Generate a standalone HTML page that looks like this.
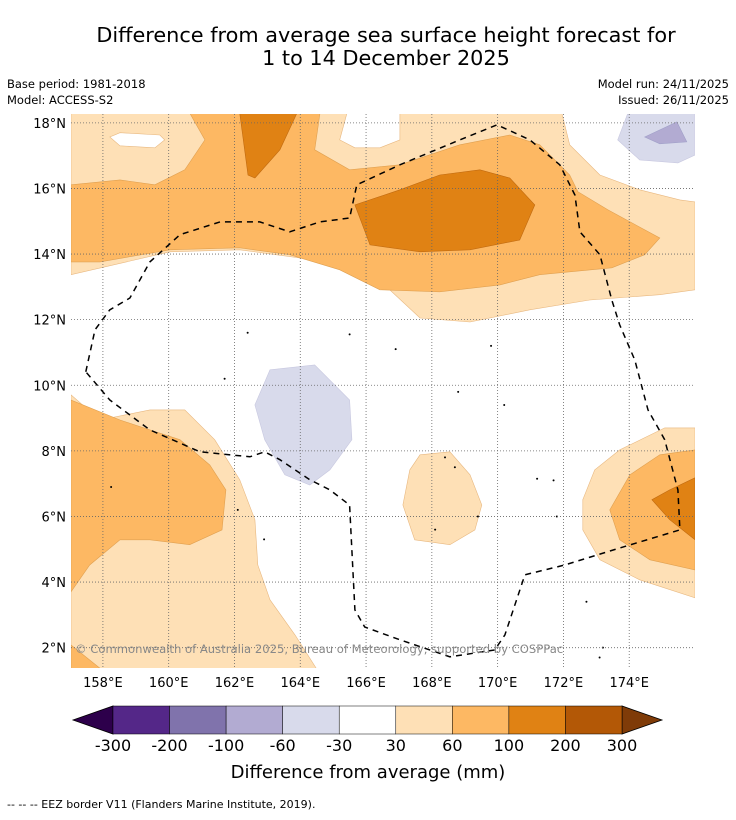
<!DOCTYPE html>
<html><head><meta charset="utf-8"><style>
body{margin:0;background:#fff;font-family:"DejaVu Sans",sans-serif;}
svg text{font-family:"DejaVu Sans",sans-serif;}
</style></head><body>
<svg id="chart" width="736" height="816" viewBox="0 0 736 816" xmlns="http://www.w3.org/2000/svg">
<text x="386" y="42" font-size="20.8" text-anchor="middle">Difference from average sea surface height forecast for</text>
<text x="386" y="65" font-size="20.8" text-anchor="middle">1 to 14 December 2025</text>
<text x="7" y="88" font-size="11.5">Base period: 1981-2018</text>
<text x="7" y="104" font-size="11.5">Model: ACCESS-S2</text>
<text x="729" y="88" font-size="11.5" text-anchor="end">Model run: 24/11/2025</text>
<text x="729" y="104" font-size="11.5" text-anchor="end">Issued: 26/11/2025</text>
<defs><clipPath id="mapclip"><rect x="71" y="114" width="624" height="554"/></clipPath></defs>
<g id="map" clip-path="url(#mapclip)"></g>
<g id="axes"></g>
<text x="75" y="653" font-size="11.6" fill="#888">© Commonwealth of Australia 2025, Bureau of Meteorology, supported by COSPPac</text>
<g id="cbar"></g>
<text x="368" y="778" font-size="18" text-anchor="middle">Difference from average (mm)</text>
<text x="7" y="808" font-size="11">--  --  -- EEZ border V11 (Flanders Marine Institute, 2019).</text>
</svg>
<script>
const lonTicks=[158,160,162,164,166,168,170,172,174];
const latTicks=[18,16,14,12,10,8,6,4,2];
const cbarLevels=[-300,-200,-100,-60,-30,30,60,100,200,300];
const cbarColors=['#542788','#8073ac','#b2abd2','#d8daeb','#ffffff','#fee0b6','#fdb863','#e08214','#b35806'];
const LIGHT='#fee0b6',MED='#fdb863',DARK='#e08214',LAV='#d8daeb',PUR='#b2abd2';
const lightTop=[[157.03,18.3],[165.42,18.3],[165.2,17.48],[165.66,17.24],[166.42,17.24],[167.03,17.48],[167.03,18.3],[171.95,18.3],[172.19,17.33],[173.11,16.41],[174.32,15.96],[175.54,15.65],[176,15.59],[176,12.91],[174.93,12.76],[172.8,12.6],[170.98,12.3],[169.16,11.93],[167.64,12.05],[166.72,12.91],[165.5,13.67],[163.99,13.88],[162.16,14.13],[160.04,14.07],[157.03,13.37]];
const holeTopLeft=[[158.21,17.57],[158.52,17.7],[159.73,17.63],[159.88,17.48],[159.58,17.24],[158.52,17.3]];
const medTop=[[157.03,16.11],[158.52,16.26],[159.58,16.11],[160.49,16.57],[161.1,17.48],[160.64,18.3],[164.6,18.3],[164.44,17.18],[165.5,16.57],[167.03,16.72],[168.85,17.33],[170.37,17.63],[171.28,17.33],[172.19,16.41],[172.44,15.9],[173.35,15.35],[174.93,14.49],[174.47,13.98],[173.47,13.58],[171.28,13.37],[170.07,13.06],[168.24,12.85],[166.42,12.91],[165.2,13.52],[163.68,13.98],[162.16,14.19],[160.04,14.13],[157.91,13.76],[157.03,13.76]];
const darkTop=[[162.16,18.3],[162.41,16.41],[162.62,16.32],[163.38,17.18],[163.9,18.3]];
const darkMid=[[165.66,15.5],[167.03,15.96],[168.24,16.41],[169.46,16.57],[170.37,16.32],[171.13,15.5],[170.67,14.43],[169.16,14.13],[167.64,14.07],[166.12,14.28]];
const lavTopRight=[[173.96,18.3],[173.65,17.48],[174.32,16.87],[175.48,16.78],[176,17.02],[176,18.3]];
const purTopRight=[[174.47,17.57],[175.45,18.03],[175.75,17.42],[174.93,17.36]];
const lavMid=[[163.08,10.47],[164.44,10.62],[165.5,9.55],[165.57,8.34],[164.9,7.42],[164.29,6.96],[163.53,7.27],[162.92,8.34],[162.62,9.4]];
const lightBL=[[157.03,9.71],[157.91,8.94],[159.43,9.25],[160.49,9.25],[161.4,8.34],[162.16,7.12],[162.62,5.9],[162.71,4.52],[163.08,3.46],[163.84,2.39],[164.53,1.3],[157.03,1.3]];
const medBL=[[157.03,9.55],[158.52,8.94],[159.43,8.64],[160.34,8.34],[161.25,7.57],[161.74,6.81],[161.62,5.59],[160.64,5.14],[159.43,5.29],[158.52,5.29],[157.6,4.52],[157.03,3.7]];
const medBL2=[[157.03,2.08],[158,1.3],[157.03,1.3]];
const lightR=[[176,8.7],[175.08,8.7],[173.71,8.03],[172.95,7.42],[172.59,6.51],[172.59,5.59],[173.11,4.68],[174.32,4.07],[176,3.52]];
const medR=[[176,8.03],[174.93,7.88],[174.02,7.27],[173.41,6.2],[173.71,5.29],[174.63,4.68],[176,4.37]];
const darkR=[[176,7.18],[175.23,6.81],[174.69,6.51],[175.23,5.9],[176,5.29]];
const lightMid=[[167.64,7.88],[168.55,7.97],[169.16,7.27],[169.52,6.35],[169.31,5.59],[168.55,5.14],[167.48,5.29],[167.12,6.35],[167.33,7.42]];
const eez=[[157.48,10.41],[157.76,11.69],[158.21,12.3],[158.82,12.66],[159.43,13.76],[160.34,14.59],[161.56,14.98],[162.77,14.98],[163.68,14.68],[164.6,14.98],[165.5,15.1],[165.72,16.11],[167.03,16.72],[168.85,17.48],[169.98,17.94],[170.98,17.48],[171.89,16.72],[172.35,15.8],[172.5,14.68],[173.11,13.98],[173.47,12.6],[173.71,11.84],[174.17,10.77],[174.57,9.25],[175.08,8.34],[175.48,6.81],[175.54,5.59],[173.71,5.04],[172.04,4.52],[170.83,4.22],[170.22,2.39],[169.91,1.93],[168.55,1.72],[167.03,2.24],[165.96,2.63],[165.66,3.15],[165.5,6.35],[164.9,6.81],[164.29,7.12],[163.38,7.73],[162.92,7.97],[162.47,7.82],[160.95,7.97],[159.43,8.64],[158.21,9.55],[157.48,10.41]];
const islands=[[158.25,6.9],[161.7,10.2],[162.1,6.2],[162.9,5.3],[165.5,11.55],[166.9,11.1],[168.4,7.8],[168.7,7.5],[170.2,9.4],[171.2,7.15],[171.7,7.1],[171.8,6.0],[168.1,5.6],[169.4,6.0],[172.7,3.4],[173.2,2.0],[173.1,1.7],[169.8,11.2],[162.4,11.6],[168.8,9.8]];
const NS='http://www.w3.org/2000/svg';
const X0=71,X1=695,Y0=114,Y1=668,LON0=157.03,LON1=176,LAT0=1.38,LAT1=18.27;
const xs=lon=>X0+(lon-LON0)/(LON1-LON0)*(X1-X0);
const ys=lat=>Y1-(lat-LAT0)/(LAT1-LAT0)*(Y1-Y0);
const map=document.getElementById('map'),axes=document.getElementById('axes'),cbar=document.getElementById('cbar');
function mk(tag,attrs,parent){const e=document.createElementNS(NS,tag);for(const k in attrs)e.setAttribute(k,attrs[k]);parent.appendChild(e);return e;}
function pts(a){return a.map(p=>xs(p[0]).toFixed(1)+','+ys(p[1]).toFixed(1)).join(' ');}
function poly(a,fill,name,stroke){const e=mk('polygon',{points:pts(a),fill:fill,stroke:stroke||'none','stroke-width':0.6},map);

return e;}
poly(lightTop,LIGHT,'contour-30-60-north','#e8b880');
poly(holeTopLeft,'#ffffff','contour-white-hole','#e8b880');
poly(medTop,MED,'contour-60-100-north','#e0a050');
poly(darkTop,DARK,'contour-100-200-north','#c06a10');
poly(darkMid,DARK,'contour-100-200-centre','#c06a10');
poly(lavTopRight,LAV,'contour-neg30-neg60-northeast','#c8c8e0');
poly(purTopRight,PUR,'contour-neg60-neg100-northeast','#a0a0c8');
poly(lavMid,LAV,'contour-neg30-neg60-centre','#c8c8e0');
poly(lightBL,LIGHT,'contour-30-60-southwest','#e8b880');
poly(medBL,MED,'contour-60-100-southwest','#e0a050');
poly(medBL2,MED,'contour-60-100-southwest-corner','#e0a050');
poly(lightR,LIGHT,'contour-30-60-east','#e8b880');
poly(medR,MED,'contour-60-100-east','#e0a050');
poly(darkR,DARK,'contour-100-200-east','#c06a10');
poly(lightMid,LIGHT,'contour-30-60-centre','#e8b880');
islands.forEach(p=>{const c=mk('circle',{cx:xs(p[0]),cy:ys(p[1]),r:1,fill:'#000'},map);

});
lonTicks.forEach(l=>{const g=mk('line',{x1:xs(l),x2:xs(l),y1:Y0,y2:Y1,stroke:'#666','stroke-width':0.8,'stroke-dasharray':'1,2'},map);


const t=mk('text',{x:xs(l),y:Y1+19,'font-size':13,'text-anchor':'middle'},axes);t.textContent=l+'°E';

});
latTicks.forEach(l=>{const g=mk('line',{x1:X0,x2:X1,y1:ys(l),y2:ys(l),stroke:'#666','stroke-width':0.8,'stroke-dasharray':'1,2'},map);


const t=mk('text',{x:X0-5,y:ys(l)+5,'font-size':13,'text-anchor':'end'},axes);t.textContent=l+'°N';

});
const e=mk('polyline',{points:pts(eez),fill:'none',stroke:'#000','stroke-width':1.5,'stroke-dasharray':'6,5'},map);


const CB0=113,CB1=622,CBY=706,CBH=28,n=cbarColors.length,w=(CB1-CB0)/n;
const lo=mk('polygon',{points:`73,${CBY+CBH/2} ${CB0},${CBY} ${CB0},${CBY+CBH}`,fill:'#2d004b',stroke:'#000','stroke-width':0.8},cbar);


const hi=mk('polygon',{points:`662,${CBY+CBH/2} ${CB1},${CBY} ${CB1},${CBY+CBH}`,fill:'#7f3b08',stroke:'#000','stroke-width':0.8},cbar);


cbarColors.forEach((c,i)=>{const r=mk('rect',{x:CB0+i*w,y:CBY,width:w,height:CBH,fill:c,stroke:'#000','stroke-width':0.5},cbar);

});
cbarLevels.forEach((v,i)=>{const t=mk('text',{x:CB0+i*w,y:751,'font-size':16,'text-anchor':'middle'},cbar);t.textContent=v;

});
</script>
</body></html>
